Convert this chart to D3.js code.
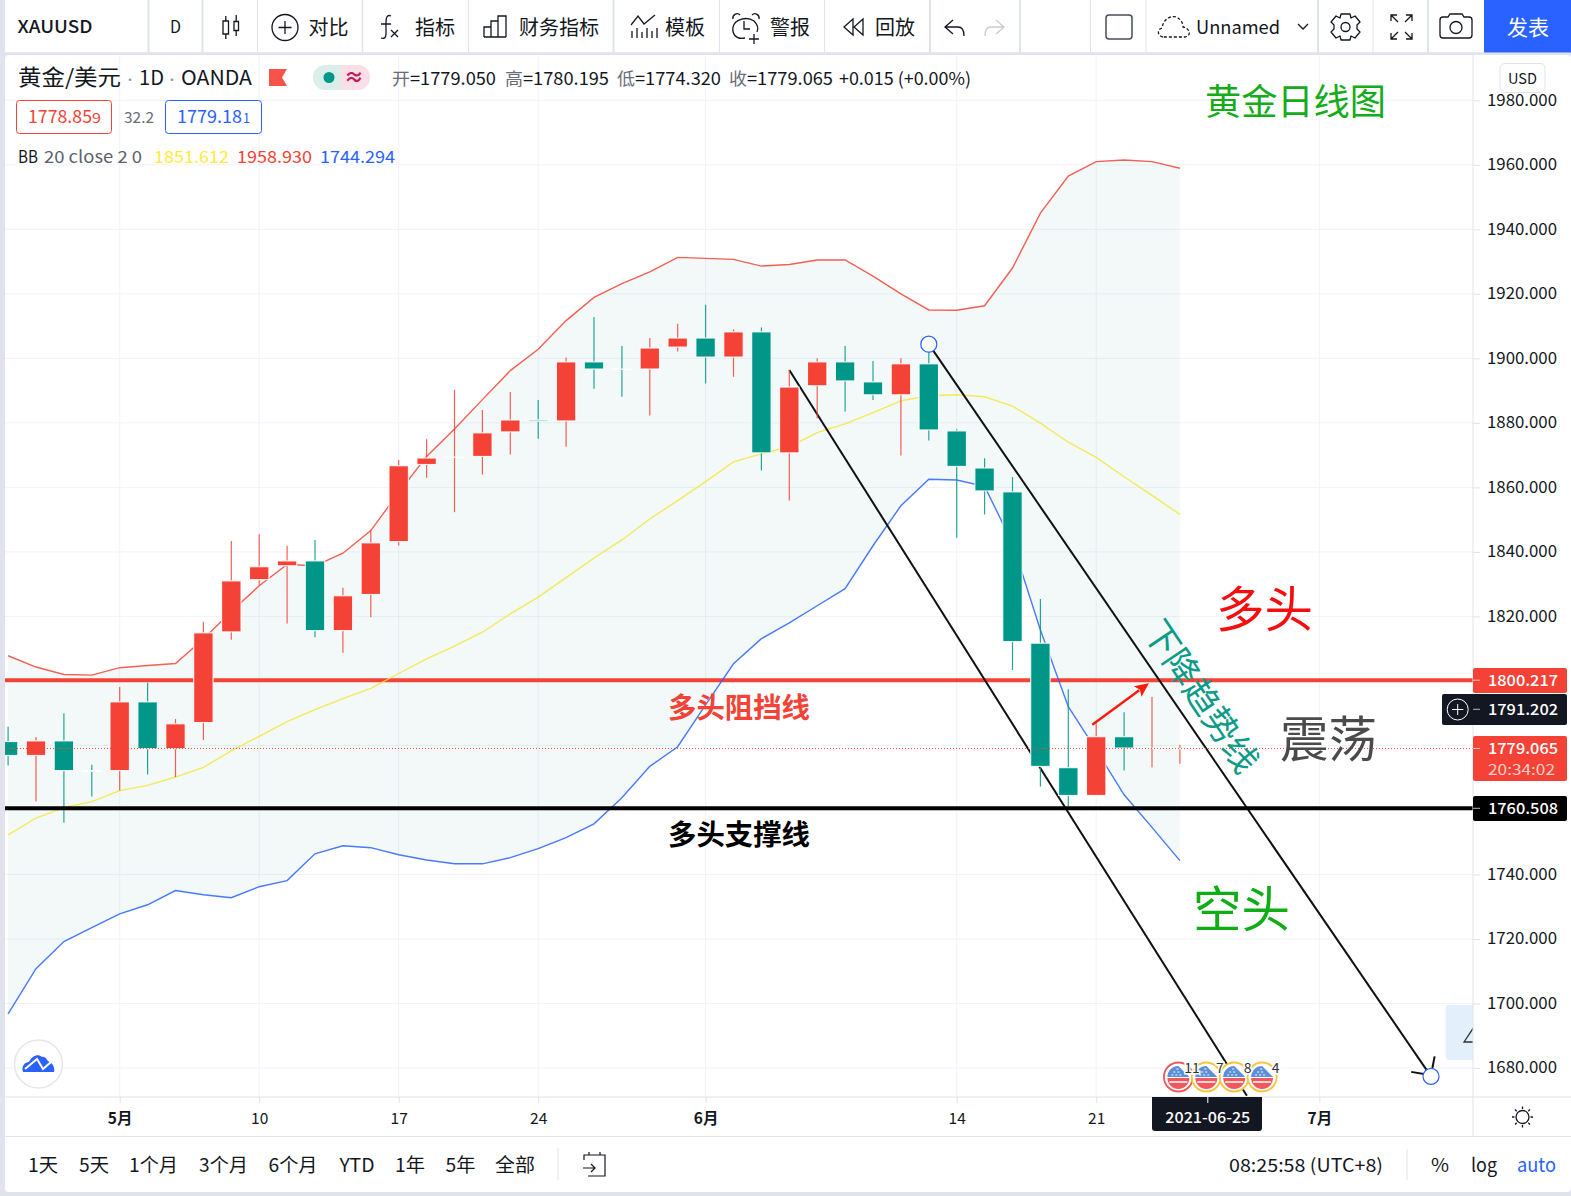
<!DOCTYPE html>
<html><head><meta charset="utf-8">
<script src="https://cdn.jsdelivr.net/npm/d3@7"></script>
<style>html,body{margin:0;padding:0;background:#fff;overflow:hidden}svg{display:block}
text{font-family:"Noto Sans CJK SC","Noto Sans",sans-serif}</style></head><body>
<script>
const candleIndex=[-4,-3,-2,-1,0,1,2,3,4,5,6,7,8,9,10,11,12,13,14,15,16,17,18,19,20,21,22,23,24,25,26,27,28,29,30,31,32,33,34,35,36,37,38];
const opens =[1781.2,1776.9,1781.4,1772.2,1772.2,1793.5,1779.0,1787.1,1815.2,1831.4,1835.7,1837.2,1815.6,1826.8,1843.2,1867.1,1869.3,1869.6,1877.2,1880.9,1880.6,1898.9,1896.7,1896.7,1903.5,1906.3,1900.4,1908.2,1870.7,1891.5,1898.9,1892.7,1888.7,1898.3,1877.5,1866.0,1858.6,1811.7,1773.1,1764.5,1782.7,1779.1,1779.05];
const highs =[1785.8,1782.6,1790.0,1774.0,1798.1,1799.4,1788.2,1818.3,1843.4,1845.5,1841.9,1843.7,1828.9,1846.6,1868.5,1874.9,1890.2,1884.0,1889.6,1887.1,1900.3,1912.8,1903.8,1906.3,1910.7,1916.6,1909.0,1909.6,1896.4,1900.0,1903.8,1899.2,1900.0,1903.0,1878.0,1869.0,1863.2,1825.4,1797.4,1786.9,1790.3,1795.0,1780.195];
const lows  =[1773.8,1762.6,1756.0,1764.2,1766.0,1771.0,1770.2,1781.7,1812.8,1829.7,1817.8,1813.5,1808.7,1819.7,1842.0,1863.0,1852.3,1864.0,1870.2,1875.1,1872.6,1890.6,1888.1,1882.3,1902.1,1892.2,1894.3,1865.2,1855.9,1881.4,1883.5,1887.1,1869.9,1874.5,1844.4,1851.6,1803.4,1767.3,1761.1,1764.5,1772.2,1773.2,1774.32];
const closes=[1776.9,1781.4,1772.2,1772.0,1793.5,1779.0,1786.7,1814.9,1831.0,1835.4,1837.2,1815.6,1826.4,1842.8,1866.7,1869.1,1869.4,1876.9,1880.9,1880.5,1898.9,1896.7,1896.6,1903.2,1906.3,1900.4,1908.2,1870.7,1891.1,1898.9,1893.0,1888.7,1898.3,1877.8,1866.5,1858.9,1812.2,1773.5,1764.5,1782.7,1779.2,1779.15,1779.065];
const bbUpper=[1807.8,1804.3,1802.0,1801.8,1804.1,1804.8,1805.4,1813.0,1821.5,1829.5,1836.1,1835.7,1839.6,1846.6,1858.4,1869.6,1878.1,1887.2,1896.2,1902.8,1911.7,1918.9,1923.2,1926.8,1931.3,1931.0,1930.7,1928.6,1929.1,1930.5,1930.5,1925.5,1920.0,1915.0,1914.9,1916.3,1928.0,1945.0,1956.5,1961.0,1961.5,1961.0,1958.93];
const bbMiddle=[1752.3,1757.5,1760.7,1762.6,1766.0,1767.6,1770.2,1773.2,1778.3,1782.8,1787.4,1791.1,1794.5,1797.7,1802.3,1806.8,1810.8,1815.1,1820.8,1826.0,1832.0,1838.1,1843.7,1850.2,1855.9,1861.8,1867.9,1870.4,1872.6,1877.0,1879.7,1883.2,1886.8,1888.4,1888.7,1888.1,1885.2,1879.9,1874.0,1869.3,1863.3,1857.5,1851.612];
const bbLower=[1696.8,1710.8,1719.2,1723.5,1727.8,1730.6,1735.0,1733.7,1732.8,1736.2,1738.1,1746.4,1748.9,1748.3,1746.1,1744.5,1743.3,1743.3,1745.2,1748.0,1751.4,1755.7,1763.8,1773.5,1779.6,1792.6,1805.3,1813.1,1818.0,1823.3,1828.6,1841.9,1854.3,1862.5,1862.3,1860.3,1842.7,1815.8,1792.0,1778.6,1764.7,1754.6,1744.294];
const priceTicks=[1680,1700,1720,1740,1760,1780,1800,1820,1840,1860,1880,1900,1920,1940,1960,1980];
const coveredPriceTicks=[1760,1780,1800];
const timeTickIndex=[0,5,10,15,21,30,35,43];
const timeTickLabels=["5月","10","17","24","6月","14","21","7月"];
const monthTicks=["5月","6月","7月"];
const resistance=1800.217, support=1760.508, lastPrice=1779.065, crosshairPrice=1791.202;
const trendA=[[24,1896.4],[40.4,1671.4]];
const trendB=[[29,1904.4],[47,1677.4]];
const trendBHead=[[[46.29,1678.8],[46.85,1678.0]],[[47.05,1680.0],[47.13,1683.6]]];
const arrowLine=[[34.86,1786.4],[36.89,1799.3]];
const eventIndex=[38,39,40,41];
const eventCounts=["11","7","8","4"];
const rangeLabels=["1天","5天","1个月","3个月","6个月","YTD","1年","5年","全部"];
const rangeX=[28,79,129,199,268.5,339.5,395,445.5,495];
const rangeW=[30,30,49,49,49,35,30,30,40];

const W=1571,H=1196,L=5,R=1473,T=55,B=1097;
const RED="#f44336",GREEN="#009688",DARK="#131722",GRID="#f0f3fa",BORDER="#e0e3eb",BLUE="#2962ff";
const x=d3.scaleLinear().domain([0,43]).range([119.7,1319.4]);
const y=d3.scaleLinear().domain([1680,1980]).range([1068,100.3]);
const svg=d3.select("body").append("svg").attr("width",W).attr("height",H).attr("viewBox",`0 0 ${W} ${H}`);
const txt=(g,s,px,py,size,color,o={})=>{const t=g.append("text").attr("x",px).attr("y",py).attr("font-size",size).attr("fill",color).attr("text-anchor",o.anchor||"start").attr("font-weight",o.weight||400).text(s);
 if(o.w){t.attr("textLength",o.w).attr("lengthAdjust","spacingAndGlyphs");} if(o.stroke){t.attr("stroke",color).attr("stroke-width",o.stroke);} return t;};

// page chrome
svg.append("rect").attr("width",W).attr("height",H).attr("fill","#e1e3ec");
svg.append("rect").attr("x",L).attr("y",T).attr("width",W-L).attr("height",1137).attr("rx",4).attr("fill","#fff");
svg.append("rect").attr("x",L).attr("y",0).attr("width",W-L).attr("height",52.5).attr("fill","#fff");
svg.append("defs").append("clipPath").attr("id","plot").append("rect").attr("x",L).attr("y",T).attr("width",R-L).attr("height",B-T);
const plot=svg.append("g").attr("clip-path","url(#plot)");

// grid
plot.selectAll(".gy").data(priceTicks).join("line").attr("x1",L).attr("x2",R).attr("y1",d=>y(d)).attr("y2",d=>y(d)).attr("stroke",GRID).attr("stroke-width",1);
plot.selectAll(".gx").data(timeTickIndex).join("line").attr("x1",d=>x(d)).attr("x2",d=>x(d)).attr("y1",T).attr("y2",B).attr("stroke",GRID).attr("stroke-width",1);

// Bollinger band
const area=d3.area().x((d,i)=>x(candleIndex[i])).y0((d,i)=>y(bbLower[i])).y1(d=>y(d));
plot.append("path").attr("d",area(bbUpper)).attr("fill","#2a9a8f").attr("fill-opacity",0.06);
plot.append("line").attr("x1",L).attr("x2",R).attr("y1",y(resistance)).attr("y2",y(resistance)).attr("stroke",RED).attr("stroke-width",4);
const bbLine=d3.line().x((d,i)=>x(candleIndex[i])).y(d=>y(d));
[[bbUpper,"#f44336"],[bbMiddle,"#f7e53b"],[bbLower,"#2962ff"]].forEach(([a,c])=>plot.append("path").attr("d",bbLine(a)).attr("fill","none").attr("stroke",c).attr("stroke-width",1.4).attr("stroke-opacity",.85));

// trend lines
const tl=d3.line().x(d=>x(d[0])).y(d=>y(d[1]));
[trendA,trendB,...trendBHead].forEach(a=>plot.append("path").attr("d",tl(a)).attr("fill","none").attr("stroke","#111").attr("stroke-width",2));

// candles
const isUp=i=>closes[i]>=opens[i];
const wickColor=i=>{if(candleIndex[i]===-1||candleIndex[i]===18)return GREEN;if(candleIndex[i]===12||candleIndex[i]===37||candleIndex[i]===38)return RED;return isUp(i)?RED:GREEN;};
const bw=19.4;
const cg=plot.append("g");
cg.selectAll(".wick").data(candleIndex).join("line").attr("x1",d=>x(d)).attr("x2",d=>x(d)).attr("y1",(d,i)=>y(highs[i])).attr("y2",(d,i)=>y(lows[i])).attr("stroke",(d,i)=>wickColor(i)).attr("stroke-width",1.2).attr("stroke-opacity",.85);
cg.selectAll(".body").data(candleIndex).join("rect")
 .attr("x",d=>x(d)-bw/2).attr("width",bw)
 .attr("y",(d,i)=>y(Math.max(opens[i],closes[i])))
 .attr("height",(d,i)=>Math.max(0.4,Math.abs(y(opens[i])-y(closes[i]))))
 .attr("fill",(d,i)=>Math.abs(opens[i]-closes[i])<0.3?"#fff":(isUp(i)?RED:GREEN))
 .attr("stroke","#fff").attr("stroke-opacity",.9).attr("stroke-width",1.1);

// support line + last price dotted
plot.append("line").attr("x1",L).attr("x2",R).attr("y1",y(support)).attr("y2",y(support)).attr("stroke","#000").attr("stroke-width",4);
plot.append("line").attr("x1",L).attr("x2",R).attr("y1",y(lastPrice)).attr("y2",y(lastPrice)).attr("stroke",RED).attr("stroke-width",1).attr("stroke-dasharray","1 2");

// red arrow
const [a0,a1]=arrowLine;const ax0=x(a0[0]),ay0=y(a0[1]),ax1=x(a1[0]),ay1=y(a1[1]);
const ang=Math.atan2(ay1-ay0,ax1-ax0);
const pt=(d,o)=>[ax1-d*Math.cos(ang)-o*Math.sin(ang),ay1-d*Math.sin(ang)+o*Math.cos(ang)];
plot.append("path").attr("d",`M${ax0},${ay0}L${pt(12,0)}`).attr("stroke","#ff1a0a").attr("stroke-width",2.4);
plot.append("path").attr("d",`M${ax1},${ay1}L${pt(14,6.5)}L${pt(11,0)}L${pt(14,-6.5)}Z`).attr("fill","#ff1a0a");

// trend end circles
[trendB[0],trendB[1]].forEach(p=>plot.append("circle").attr("cx",x(p[0])).attr("cy",y(p[1])).attr("r",8).attr("fill","#fff").attr("stroke",BLUE).attr("stroke-width",1.2));

// annotations
const ann=plot.append("g");
txt(ann,"黄金日线图",1205,115,36.2,"#14ac18");
txt(ann,"多头",1216,627,48.5,"#f60d0d");
txt(ann,"震荡",1280,757,48.5,"#4a4a4a");
txt(ann,"空头",1193,927,48.5,"#0fae16");
txt(ann,"多头阻挡线",668,718,28.4,RED,{weight:700});
txt(ann,"多头支撑线",668,845,28.4,"#000",{weight:700});
txt(ann,"下降趋势线",0,0,35,"#0b9b88").attr("x",null).attr("y",null).attr("transform","translate(1142,631) rotate(56)");

// events
eventIndex.forEach((d,i)=>{const g=plot.append("g").attr("transform",`translate(${x(d)-1.5},1077)`);
 g.append("circle").attr("r",14.5).attr("fill","#fff").attr("stroke",i?"#f9c33b":"#f0585e").attr("stroke-width",1.8);});
eventIndex.forEach((d,i)=>{const g=plot.append("g").attr("transform",`translate(${x(d)-1.5},1077)`);
 g.append("path").attr("d","M-11,0A11,11 0 0 1 0,-11L11,0Z").attr("fill","#5b8fd8");
 g.append("path").attr("d","M-7,-2h2M-3,-2h2M1,-2h2M-5,-5h2M-1,-5h2M-2,-8h2").attr("stroke","#fff").attr("stroke-width",1);
 g.append("path").attr("d","M-11,1H11A11,11 0 0 1 -11,1Z").attr("fill","#f0585e");
 g.append("path").attr("d","M-9,5H9").attr("stroke","#fff").attr("stroke-width",1.5);
});
eventIndex.forEach((d,i)=>txt(plot,eventCounts[i],x(d)+12,1073,14,"#333",{anchor:"middle"}).attr("paint-order","stroke").attr("stroke","#fff").attr("stroke-width",3));

// logo
plot.append("ellipse").attr("cx",38.5).attr("cy",1064).attr("rx",24).attr("ry",24).attr("fill","#fff").attr("stroke","#e6e7ea").attr("stroke-width",1.5);
plot.append("path").attr("d","M23,1072C21,1066 25,1062 29,1062C32,1056 38,1053 42,1057C45,1056 47,1060 48,1061C53,1063 55,1068 54,1072Z").attr("fill",BLUE);
plot.append("path").attr("d","M25,1069L37,1059L43,1069L51,1062").attr("fill","none").attr("stroke","#fff").attr("stroke-width",2);
// side widget
plot.append("rect").attr("x",1445.5).attr("y",1005).attr("width",50).attr("height",55).attr("rx",4).attr("fill","#e3effa");
plot.append("path").attr("d","M1474,1027L1464,1042H1474").attr("fill","none").attr("stroke","#333").attr("stroke-width",1.3);

// price axis
const ya=svg.append("g").attr("transform",`translate(${R},0)`).call(d3.axisRight(y).tickValues(priceTicks).tickFormat(d3.format(".3f")).tickSize(7).tickPadding(5));
ya.select(".domain").remove();
ya.selectAll("line").attr("stroke",BORDER);
ya.selectAll("text").attr("font-size",16.5).attr("fill",DARK).attr("textLength",70).attr("lengthAdjust","spacingAndGlyphs").attr("dy","0.3em").attr("x",14);
ya.selectAll(".tick").filter(d=>coveredPriceTicks.includes(d)).select("text").remove();
svg.append("line").attr("x1",R).attr("x2",R).attr("y1",T).attr("y2",1136).attr("stroke",BORDER);
// time axis
const xa=svg.append("g").attr("transform",`translate(0,${B})`).call(d3.axisBottom(x).tickValues(timeTickIndex).tickFormat((d,i)=>timeTickLabels[i]).tickSize(6).tickPadding(6));
xa.select(".domain").remove();
xa.selectAll("line").attr("stroke",BORDER);
xa.selectAll("text").attr("font-size",15.5).attr("fill",DARK).attr("y",15.5).attr("dy","0.72em").attr("font-weight",d=>{const k=timeTickLabels[timeTickIndex.indexOf(d)];return monthTicks.includes(k)?700:400;});
svg.append("line").attr("x1",L).attr("x2",W).attr("y1",B).attr("y2",B).attr("stroke",BORDER);
svg.append("line").attr("x1",L).attr("x2",W).attr("y1",1136.5).attr("y2",1136.5).attr("stroke",BORDER);

// price labels
const lab=(val,top,h,col,left=R)=>{svg.append("rect").attr("x",left).attr("y",top).attr("width",1567-left).attr("height",h).attr("rx",2).attr("fill",col);
 svg.append("line").attr("x1",R).attr("x2",R+7).attr("y1",y(val)).attr("y2",y(val)).attr("stroke","#fff").attr("stroke-opacity",.7);
 txt(svg,d3.format(".3f")(val),1558,y(val)+5.5,15,"#fff",{anchor:"end",weight:500,w:70});};
lab(resistance,668,25,RED);
lab(crosshairPrice,694,31,DARK,1442);
lab(lastPrice,736,45,RED);
txt(svg,"20:34:02",1555,775,14.5,"#ffd0cb",{anchor:"end",w:67});
lab(support,796,25,"#000");
svg.append("circle").attr("cx",1457.7).attr("cy",709.5).attr("r",10.5).attr("fill","none").attr("stroke","#fff");
svg.append("path").attr("d","M1452,709.5H1463.4M1457.7,704V715").attr("stroke","#fff").attr("fill","none");
// date label
svg.append("path").attr("d","M1152,1097H1262V1128a3,3 0 0 1 -3,3H1155a3,3 0 0 1 -3,-3Z").attr("fill",DARK);
svg.append("line").attr("x1",x(39)).attr("x2",x(39)).attr("y1",1097).attr("y2",1103).attr("stroke","#fff");
txt(svg,"2021-06-25",x(39),1123,15,"#fff",{anchor:"middle",weight:500,w:85});
// USD
svg.append("rect").attr("x",1500).attr("y",63.5).attr("width",45).attr("height",29).attr("rx",5).attr("fill","#fff").attr("stroke",BORDER);
txt(svg,"USD",1522.5,84,15,DARK,{anchor:"middle",w:29});
// sun
const sun=svg.append("g").attr("transform","translate(1522.5,1117)").attr("stroke",DARK).attr("fill","none").attr("stroke-width",1.3);
sun.append("circle").attr("r",6.5);
sun.append("path").attr("d","M0,-10.5V-8M0,8V10.5M-10.5,0H-8M8,0H10.5M-7.5,-7.5L-5.8,-5.8M5.8,5.8L7.5,7.5M-7.5,7.5L-5.8,5.8M5.8,-5.8L7.5,-7.5");

// toolbar
const tb=svg.append("g");
[[148.5,2],[202.5,2],[257.5,1],[362.5,1.5],[468.5,1],[613.5,2],[719.5,1],[824.5,1],[930,2],[1020,2],[1090.5,1],[1146,1],[1318,2],[1373,1],[1428,2]].forEach(([p,w])=>tb.append("line").attr("x1",p).attr("x2",p).attr("y1",0).attr("y2",52.5).attr("stroke",BORDER).attr("stroke-width",w));
tb.append("rect").attr("x",5).attr("y",52.5).attr("width",W).attr("height",2.5).attr("fill","#e1e3ec");
tb.append("rect").attr("x",1484).attr("y",0).attr("width",W-1484).attr("height",52.5).attr("fill",BLUE);
txt(tb,"XAUUSD",17.5,33,17.5,DARK,{weight:500,w:75});
txt(tb,"D",175.5,33,17,DARK,{anchor:"middle",w:11});
[["对比",308.5,40],["指标",415,40],["财务指标",519,80],["模板",665,40],["警报",770,40],["回放",875,40]].forEach(([s,px,w])=>txt(tb,s,px,34.5,20,"#131722",{w}));
txt(tb,"Unnamed",1196,33.5,18,DARK,{w:84});
txt(tb,"发表",1507,35,21,"#fff",{w:42});
const ic=tb.append("g").attr("fill","none").attr("stroke",DARK).attr("stroke-width",1.3);
// candle icon
ic.append("path").attr("d","M223,21h5.5v13h-5.5zM234,21.5h4.5v9h-4.5zM225.8,16V21M225.8,34V39M236.2,15V21.5M236.2,30.5V36");
// plus-circle
ic.append("circle").attr("cx",285).attr("cy",27.5).attr("r",13);ic.append("path").attr("d","M278.5,27.5H291.5M285,21V34");
// fx
ic.append("path").attr("d","M391,16C387,14 386,18 386,22V34C386,38 384,39 381,38M381,24H391M391,30L398,37M398,30L391,37");
// bars
ic.append("path").attr("d","M484,37V27H491V37M491,37V21H498V37M498,37V16H506V37M484,37H506");
// template
ic.append("path").attr("d","M631,25L638,16L644,24L655,15M632,31V38M637,28V38M642,32V38M647,28V38M652,31V38M657,28V38");
// alarm
ic.append("path").attr("d","M745,38C735,40 732,33 733,27C735,19 747,16 754,21C758,25 759,28 757,32M744,21V29H750M733,19C732,15 737,12 740,15M752,15C755,12 760,15 759,19M754,34V44M749,39H759");
// rewind
ic.append("path").attr("d","M853,19L844,27L853,35ZM863,19L854,27L863,35Z");
// undo/redo
ic.append("path").attr("d","M953,20L945,27L953,34M945,27H958C962,27 964,31 964,36");
tb.append("path").attr("d","M1002,20L1010,27L1002,34M1010,27H997C993,27 991,31 991,36").attr("transform","translate(-6,0)").attr("fill","none").attr("stroke","#c9cbd3").attr("stroke-width",1.3);
// square
ic.append("rect").attr("x",1106).attr("y",15).attr("width",26).attr("height",24).attr("rx",3).attr("stroke","#4a4e5a").attr("stroke-width",1.5);
// cloud
ic.append("path").attr("d","M1163,37C1157,36 1157,29 1162,28C1163,20 1170,15 1176,17C1181,19 1183,23 1183,27C1190,28 1192,36 1185,37Z").attr("stroke-dasharray","3 2");
// chevron
ic.append("path").attr("d","M1298,24L1303,29L1308,24");
// gear
ic.append("circle").attr("cx",1345.5).attr("cy",27).attr("r",4.5);
ic.append("path").attr("d","M1341,14H1350L1351,18L1355,16L1360,22L1357,25V29L1360,32L1355,38L1351,36L1350,40H1341L1340,36L1336,38L1331,32L1334,29V25L1331,22L1336,16L1340,18Z").attr("stroke-linejoin","round");
// fullscreen
ic.append("path").attr("d","M1391,21V15H1397M1391,15L1398,22M1412,21V15H1406M1412,15L1405,22M1391,33V39H1397M1391,39L1398,32M1412,33V39H1406M1412,39L1405,32");
// camera
ic.append("path").attr("d","M1443,17H1448L1450,14H1462L1464,17H1469C1471,17 1472,18 1472,20V35C1472,37 1471,38 1469,38H1443C1441,38 1440,37 1440,35V20C1440,18 1441,17 1443,17Z");
ic.append("circle").attr("cx",1456).attr("cy",27.5).attr("r",6);

// legend
const lg=svg.append("g");
txt(lg,"黄金/美元",18,85,21.5,DARK,{w:103});
txt(lg,"·",130,85,12,"#9598a1",{anchor:"middle"});
txt(lg,"1D",139,85,20.5,DARK,{w:25});
txt(lg,"·",172,85,12,"#9598a1",{anchor:"middle"});
txt(lg,"OANDA",181,85,20.5,DARK,{w:71});
lg.append("path").attr("d","M269,69H287L282,77.5L287,86H269Z").attr("fill","#f8534a");
lg.append("rect").attr("x",313).attr("y",65).attr("width",30).attr("height",25).attr("fill","#dceee9").attr("rx",12);
lg.append("rect").attr("x",341).attr("y",65).attr("width",29).attr("height",25).attr("fill","#fbdfe7").attr("rx",12);
lg.append("rect").attr("x",330).attr("y",65).attr("width",11).attr("height",25).attr("fill","#dceee9");
lg.append("rect").attr("x",341).attr("y",65).attr("width",12).attr("height",25).attr("fill","#fbdfe7");
lg.append("circle").attr("cx",329).attr("cy",77.5).attr("r",5.5).attr("fill",GREEN);
txt(lg,"≈",354,85,20,"#c2185b",{anchor:"middle",weight:700});
const ohlc=[["开",392],["高",505],["低",617],["收",729]];
const ohlcV=["=1779.050","=1780.195","=1774.320","=1779.065"];
ohlc.forEach(([s,px],i)=>{txt(lg,s,px,85,17.5,"#6a6d78",{w:18});txt(lg,ohlcV[i],px+18,85,17.5,"#131722",{w:86});});
txt(lg,"+0.015 (+0.00%)",839,85,17.5,"#131722",{w:132});
lg.append("rect").attr("x",16.5).attr("y",100.5).attr("width",95).attr("height",33).attr("rx",3).attr("fill","#fff").attr("stroke",RED);
txt(lg,"1778.85",28,123,18,RED,{w:64});txt(lg,"9",92,123,13,RED,{w:9});
txt(lg,"32.2",124,123,15,"#6a6d78",{w:30});
lg.append("rect").attr("x",165.5).attr("y",100.5).attr("width",96).attr("height",33).attr("rx",3).attr("fill","#fff").attr("stroke",BLUE);
txt(lg,"1779.18",177,123,18,BLUE,{w:65});txt(lg,"1",243,123,13,BLUE,{w:7});
txt(lg,"BB",18,163,17,DARK,{w:20});
txt(lg,"20 close 2 0",44,163,17,"#5d606b",{w:98});
txt(lg,"1851.612",154,163,17,"#ffeb3b",{w:75});
txt(lg,"1958.930",237,163,17,RED,{w:75});
txt(lg,"1744.294",320,163,17,BLUE,{w:75});

// bottom
const bt=svg.append("g");
rangeLabels.forEach((s,i)=>txt(bt,s,rangeX[i],1172,19,DARK,{w:rangeW[i]}));
bt.append("line").attr("x1",558).attr("x2",558).attr("y1",1148).attr("y2",1180).attr("stroke",BORDER);
bt.append("path").attr("d","M584,1160V1155H605V1176H588M584,1155H605M589,1152V1155M600,1152V1155M583,1168H595M591,1164L595,1168L591,1172").attr("fill","none").attr("stroke",DARK).attr("stroke-width",1.2);
txt(bt,"08:25:58 (UTC+8)",1229,1172,18,DARK,{w:154});
bt.append("line").attr("x1",1407).attr("x2",1407).attr("y1",1149).attr("y2",1180).attr("stroke",BORDER);
txt(bt,"%",1431,1172,19,DARK,{w:18});
txt(bt,"log",1471,1172,19,DARK,{w:26});
txt(bt,"auto",1517,1172,19,BLUE,{w:39});
</script></body></html>
